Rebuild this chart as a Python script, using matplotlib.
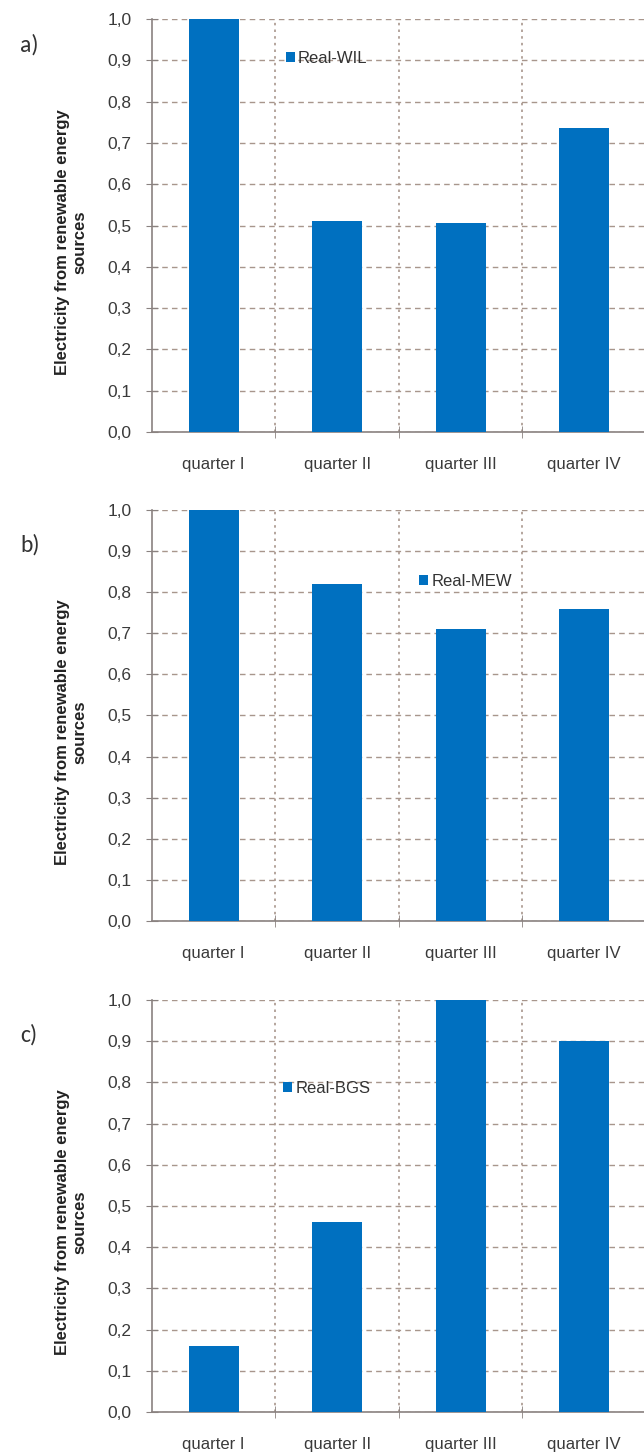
import matplotlib
matplotlib.use("Agg")
import matplotlib.pyplot as plt
from matplotlib.ticker import FixedLocator

# quarterly share of electricity from renewable sources, per site
quarters = ["quarter I", "quarter II", "quarter III", "quarter IV"]
panel_tags = ["a)", "b)", "c)"]
series_names = ["Real-WIL", "Real-MEW", "Real-BGS"]
wil = [1.00, 0.51, 0.505, 0.735]
mew = [1.00, 0.82, 0.71, 0.76]
bgs = [0.16, 0.46, 1.00, 0.90]
y_ticks = [0.0, 0.1, 0.2, 0.3, 0.4, 0.5, 0.6, 0.7, 0.8, 0.9, 1.0]
y_tick_labels = [f"{v:.1f}".replace(".", ",") for v in y_ticks]

BAR = "#0070c0"
GRID = "#a8968c"
SPINE = "#8a8280"
TXT = "#3a3a3a"
SANS = ["Liberation Sans", "DejaVu Sans"]

fig = plt.figure(figsize=(6.44, 14.54), dpi=100)

# (bottom, height) of each panel in figure fractions, legend anchor and tag height in axes coords
panels = [
    (0.7029, 0.2840, (0.24, 0.905), 0.937),
    (0.3666, 0.2827, (0.51, 0.825), 0.915),
    (0.0289, 0.2834, (0.235, 0.785), 0.915),
]

for (bottom, height, leg_anchor, tag_y), tag, name, vals in zip(panels, panel_tags, series_names, [wil, mew, bgs]):
    ax = fig.add_axes([0.236, bottom, 0.767, height])
    x = range(len(quarters))
    ax.bar(x, vals, width=0.405, color=BAR, label=name, zorder=3)

    ax.set_xlim(-0.5, len(quarters) - 0.5)
    ax.set_ylim(0, 1.0)

    ax.set_yticks(y_ticks)
    ax.set_yticklabels(y_tick_labels, family=SANS, fontsize=12.5, color=TXT)
    ax.set_xticks(list(x))
    ax.set_xticklabels(quarters, family=SANS, fontsize=12, color=TXT)
    ax.xaxis.set_minor_locator(FixedLocator([0.5, 1.5, 2.5, 3.5]))

    ax.tick_params(axis="x", which="major", length=0, pad=18)
    ax.tick_params(axis="x", which="minor", direction="inout", length=9, color=SPINE)
    ax.tick_params(axis="y", direction="inout", length=9, color=SPINE, pad=10)

    ax.grid(axis="y", which="major", color=GRID, linestyle=(0, (4, 3)), linewidth=1.0)
    ax.grid(axis="x", which="minor", color=GRID, linestyle=(0, (1.5, 2.5)), linewidth=1.2)
    ax.set_axisbelow(True)

    for side in ("top", "right"):
        ax.spines[side].set_visible(False)
    for side in ("left", "bottom"):
        ax.spines[side].set_color(SPINE)
        ax.spines[side].set_linewidth(1.2)

    ax.set_ylabel("Electricity from renewable energy\nsources", family=SANS,
                  fontsize=12, fontweight="bold", color="#222222", linespacing=1.2)
    ax.yaxis.set_label_coords(-0.13, 0.46)

    ax.legend(loc="center left", bbox_to_anchor=leg_anchor, frameon=False,
              handlelength=0.55, handleheight=0.55, handletextpad=0.2,
              prop={"family": SANS, "size": 12}, labelcolor="#333333")

    ax.text(-0.267, tag_y, tag, transform=ax.transAxes, fontsize=17,
            color="#333333", family=["Carlito", "Liberation Sans", "DejaVu Sans"],
            ha="left", va="center")

fig.savefig("out.png", dpi=100)
